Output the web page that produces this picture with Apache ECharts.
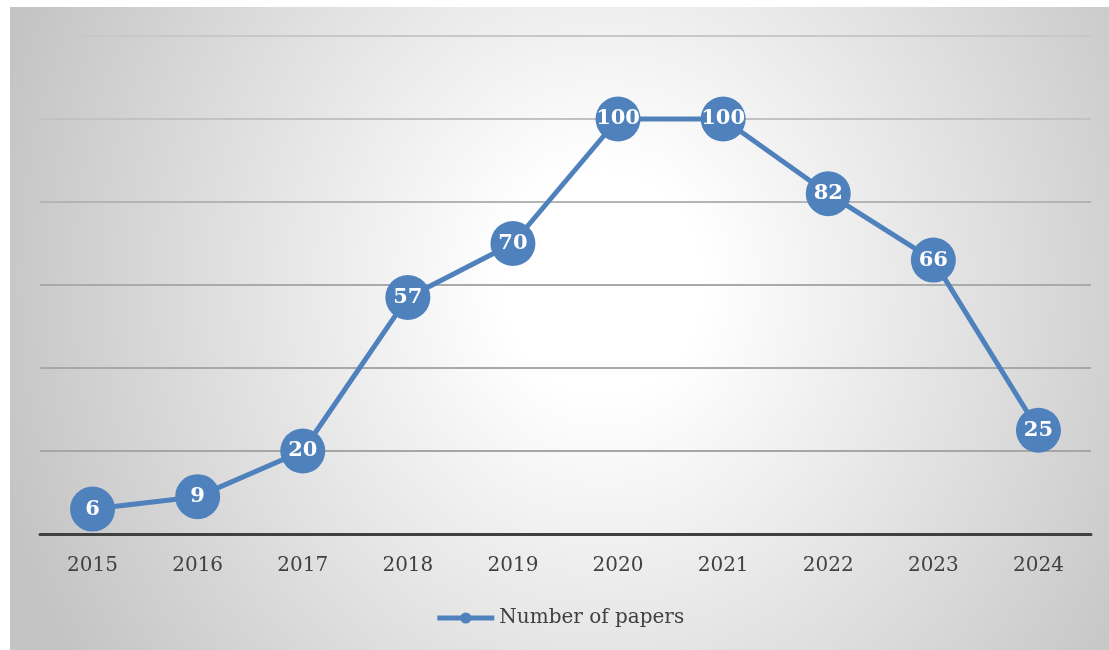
<!DOCTYPE html>
<html>
<head>
<meta charset="utf-8">
<script src="https://cdn.jsdelivr.net/npm/echarts@6/dist/echarts.min.js"></script>
<style>
html,body{margin:0;padding:0;background:#fff;width:1109px;height:650px;overflow:hidden;}
#chart{position:absolute;left:10px;top:7px;width:1099px;height:643px;
background:radial-gradient(ellipse 57% 108% at 54% 43%, #ffffff 0%, #ffffff 16%, #c4c4c4 100%);}
</style>
</head>
<body>
<div id="chart"></div>
<script>
const categories = ['2015','2016','2017','2018','2019','2020','2021','2022','2023','2024'];
const papers = [6, 9, 20, 57, 70, 100, 100, 82, 66, 25];
const seriesName = 'Number of papers';

const chart = echarts.init(document.getElementById('chart'), null, {renderer:'canvas'});
chart.setOption({
  backgroundColor: 'transparent',
  animation: false,
  grid: {left: 30, right: 18, top: 29, bottom: 116, containLabel: false},
  legend: {
    data: [seriesName],
    bottom: 17,
    left: 'center',
    itemWidth: 57,
    itemHeight: 14,
    itemGap: 4,
    lineStyle: {width: 5},
    textStyle: {fontFamily: 'DejaVu Serif', fontSize: 20, color: '#404040'}
  },
  xAxis: {
    type: 'category',
    data: categories,
    boundaryGap: true,
    axisLine: {lineStyle: {color: '#404040', width: 3}},
    axisTick: {show: false},
    axisLabel: {fontFamily: 'DejaVu Serif', fontSize: 20, color: '#404040', margin: 22}
  },
  yAxis: {
    type: 'value',
    min: 0, max: 120, interval: 20,
    axisLabel: {show: false},
    axisLine: {show: false},
    axisTick: {show: false},
    splitLine: {lineStyle: {color: ['#a0a0a0','#a6a6a6','#a8a8a8','#aaaaaa','#b4b4b4','#c2c2c2','#c8c8c8'], width: 2}}
  },
  series: [{
    name: seriesName,
    type: 'line',
    data: papers,
    symbol: 'circle',
    symbolSize: 45,
    lineStyle: {color: '#4F81BD', width: 5},
    itemStyle: {color: '#4F81BD', borderWidth: 0},
    label: {
      show: true,
      position: 'inside',
      color: '#ffffff',
      fontFamily: 'DejaVu Serif',
      fontWeight: 'bold',
      fontSize: 21
    },
    z: 3
  }]
});
</script>
</body>
</html>
